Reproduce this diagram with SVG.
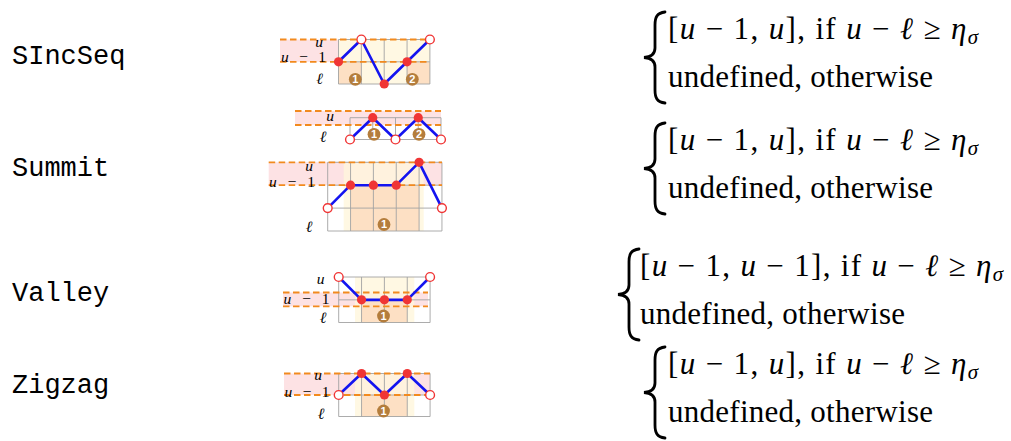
<svg xmlns="http://www.w3.org/2000/svg" xmlns:xlink="http://www.w3.org/1999/xlink" width="1011" height="441" viewBox="0 0 1011 441">
<style>
.name{font-family:"Liberation Mono","DejaVu Sans Mono",monospace;font-size:27px;fill:#000}
.fm{font-family:"Liberation Serif","DejaVu Serif",serif;font-size:31px;fill:#000}
.i{font-style:italic}
.lbl{font-family:"Liberation Serif","DejaVu Serif",serif;font-size:15.5px;fill:#000}
.band{fill:#fde2e4}
.cream{fill:#fff6dc;opacity:0.8}
.peach{fill:#fde0c4}
.grid{fill:none;stroke:#a3a3a3;stroke-width:0.9}
.dash{fill:none;stroke:#f28a1e;stroke-width:1.8;stroke-dasharray:6.5 3.5}
.seq{fill:none;stroke:#1414f0;stroke-width:2.6;stroke-linejoin:round}
.on{fill:#f03535}
.off{fill:#fff;stroke:#f03535;stroke-width:1.4}
.badge{fill:#b47d3c}
.bn{font-family:"Liberation Sans","DejaVu Sans",sans-serif;font-size:11px;font-weight:bold;fill:#fff;text-anchor:middle}
.brace{fill:none;stroke:#000;stroke-width:2.8;stroke-linecap:round}
</style>
<defs>
<path id="br" d="M22 0 C14 1 12 5 12 13 L12 36 C12 42 8 45 1 45.5 C8 46 12 49 12 55 L12 78 C12 86 14 90 22 91"/>
</defs>

<g id="name-sincseq"><text class="name" x="12" y="64.3">SIncSeq</text></g>
<g id="name-summit"><text class="name" x="12" y="175.7">Summit</text></g>
<g id="name-valley"><text class="name" x="12" y="300.7">Valley</text></g>
<g id="name-zigzag"><text class="name" x="12" y="393.3">Zigzag</text></g>

<g id="diagram-sincseq">
<rect class="band" x="280" y="39.5" width="58.5" height="22.3"/>
<rect class="cream" x="338.5" y="39.5" width="91.4" height="44.5"/>
<rect class="peach" x="338.5" y="61.8" width="22.85" height="22.2"/>
<rect class="peach" x="407.05" y="61.8" width="22.85" height="22.2"/>
<path class="grid" d="M338.5 39.5H429.9M338.5 61.8H429.9M338.5 84H429.9M338.5 39.5V84M361.35 39.5V84M384.2 39.5V84M407.05 39.5V84M429.9 39.5V84"/>
<path class="dash" d="M280 39.5H430M280 61.8H430"/>
<text class="lbl i" x="319" y="46.5" text-anchor="middle">u</text>
<text class="lbl" x="281" y="62" textLength="45"><tspan class="i">u</tspan> − 1</text>
<text class="lbl i" x="319.5" y="83.5" text-anchor="middle">ℓ</text>
<circle class="badge" cx="355.3" cy="79.3" r="6.4"/><text class="bn" x="355.3" y="83.2">1</text>
<circle class="badge" cx="412.3" cy="79.3" r="6.4"/><text class="bn" x="412.3" y="83.2">2</text>
<polyline class="seq" points="338.5,61.8 361.35,39.5 384.2,84 407.05,61.8 429.9,39.5"/>
<circle class="on" cx="338.5" cy="61.8" r="4.6"/>
<circle class="off" cx="361.35" cy="39.5" r="4.4"/>
<circle class="on" cx="384.2" cy="84" r="4.6"/>
<circle class="on" cx="407.05" cy="61.8" r="4.6"/>
<circle class="off" cx="429.9" cy="39.5" r="4.4"/>
</g>

<g id="diagram-summit-small">
<rect class="band" x="295" y="111" width="146" height="14"/>
<path class="grid" d="M350 117.7H441M350 139.5H441M350 117.7V139.5M372.75 117.7V139.5M395.5 117.7V139.5M418.25 117.7V139.5M441 117.7V139.5"/>
<path class="dash" d="M295 111H441M295 125H441"/>
<text class="lbl i" x="330" y="120.5" text-anchor="middle">u</text>
<text class="lbl i" x="323" y="141.5" text-anchor="middle">ℓ</text>
<circle class="badge" cx="374" cy="134.3" r="6.4"/><text class="bn" x="374" y="138.2">1</text>
<circle class="badge" cx="419" cy="134.3" r="6.4"/><text class="bn" x="419" y="138.2">2</text>
<polyline class="seq" points="350,139.5 372.75,117.7 395.5,139.5 418.25,117.7 441,139.5"/>
<circle class="off" cx="350" cy="139.5" r="4.4"/>
<circle class="on" cx="372.75" cy="117.7" r="4.6"/>
<circle class="off" cx="395.5" cy="139.5" r="4.4"/>
<circle class="on" cx="418.25" cy="117.7" r="4.6"/>
<circle class="off" cx="441" cy="139.5" r="4.4"/>
</g>

<g id="diagram-summit">
<rect class="band" x="268.7" y="162.3" width="173.3" height="22.9"/>
<rect class="cream" x="343.7" y="162.3" width="80" height="68.7"/>
<rect class="peach" x="350.55" y="185.2" width="68.55" height="45.8"/>
<path class="grid" d="M327.7 162.3H441.95M327.7 185.2H441.95M327.7 208.1H441.95M327.7 231H441.95M327.7 162.3V231M350.55 162.3V231M373.4 162.3V231M396.25 162.3V231M419.1 162.3V231M441.95 162.3V231"/>
<path class="dash" d="M268.7 162.3H442M268.7 185.2H442"/>
<text class="lbl i" x="309" y="170.5" text-anchor="middle">u</text>
<text class="lbl" x="269" y="186.5" textLength="46"><tspan class="i">u</tspan> − 1</text>
<text class="lbl i" x="309" y="231.5" text-anchor="middle">ℓ</text>
<circle class="badge" cx="384" cy="224.5" r="6.4"/><text class="bn" x="384" y="228.4">1</text>
<polyline class="seq" points="327.7,208.1 350.55,185.2 373.4,185.2 396.25,185.2 419.1,162.3 441.95,208.1"/>
<circle class="off" cx="327.7" cy="208.1" r="4.4"/>
<circle class="on" cx="350.55" cy="185.2" r="4.6"/>
<circle class="on" cx="373.4" cy="185.2" r="4.6"/>
<circle class="on" cx="396.25" cy="185.2" r="4.6"/>
<circle class="on" cx="419.1" cy="162.3" r="4.6"/>
<circle class="off" cx="441.95" cy="208.1" r="4.4"/>
</g>

<g id="diagram-valley">
<rect class="band" x="283" y="292.5" width="145" height="13.8"/>
<rect class="cream" x="355" y="277" width="59.3" height="45.5"/>
<rect class="peach" x="361.55" y="299.85" width="45.7" height="22.65"/>
<path class="grid" d="M338.7 277H430.1M338.7 299.85H430.1M338.7 322.5H430.1M338.7 277V322.5M361.55 277V322.5M384.4 277V322.5M407.25 277V322.5M430.1 277V322.5"/>
<path class="dash" d="M283 292.5H428M283 306.3H428"/>
<text class="lbl i" x="320.5" y="284" text-anchor="middle">u</text>
<text class="lbl" x="283.5" y="303.7" textLength="46"><tspan class="i">u</tspan> − 1</text>
<text class="lbl i" x="323" y="322.5" text-anchor="middle">ℓ</text>
<circle class="badge" cx="383.5" cy="316" r="6.4"/><text class="bn" x="383.5" y="319.9">1</text>
<polyline class="seq" points="338.7,277 361.55,299.85 384.4,299.85 407.25,299.85 430.1,277"/>
<circle class="off" cx="338.7" cy="277" r="4.4"/>
<circle class="on" cx="361.55" cy="299.85" r="4.6"/>
<circle class="on" cx="384.4" cy="299.85" r="4.6"/>
<circle class="on" cx="407.25" cy="299.85" r="4.6"/>
<circle class="off" cx="430.1" cy="277" r="4.4"/>
</g>

<g id="diagram-zigzag">
<rect class="band" x="284" y="373.5" width="146" height="21.5"/>
<rect class="cream" x="355" y="373.5" width="59.3" height="43"/>
<rect class="peach" x="361.55" y="395" width="45.7" height="21.5"/>
<path class="grid" d="M338.7 373.5H430.1M338.7 395H430.1M338.7 416.5H430.1M338.7 373.5V416.5M361.55 373.5V416.5M384.4 373.5V416.5M407.25 373.5V416.5M430.1 373.5V416.5"/>
<path class="dash" d="M284 373.5H430M284 395H430"/>
<text class="lbl i" x="318" y="380" text-anchor="middle">u</text>
<text class="lbl" x="284.5" y="396.5" textLength="45"><tspan class="i">u</tspan> − 1</text>
<text class="lbl i" x="321" y="419" text-anchor="middle">ℓ</text>
<circle class="badge" cx="383.5" cy="411" r="6.4"/><text class="bn" x="383.5" y="414.9">1</text>
<polyline class="seq" points="338.7,395 361.55,373.5 384.4,395 407.25,373.5 430.1,395"/>
<circle class="off" cx="338.7" cy="395" r="4.4"/>
<circle class="on" cx="361.55" cy="373.5" r="4.6"/>
<circle class="on" cx="384.4" cy="395" r="4.6"/>
<circle class="on" cx="407.25" cy="373.5" r="4.6"/>
<circle class="off" cx="430.1" cy="395" r="4.4"/>
</g>

<g id="formula-sincseq">
<use xlink:href="#br" href="#br" class="brace" x="643" y="12"/>
<text class="fm" x="668" y="38.5" textLength="310">[<tspan class="i">u</tspan> − 1, <tspan class="i">u</tspan>],  if <tspan class="i">u</tspan> − <tspan class="i">ℓ</tspan> ≥ <tspan class="i">η</tspan><tspan class="i" font-size="21" dy="5">σ</tspan></text>
<text class="fm" x="668" y="86.7" textLength="265">undefined, otherwise</text>
</g>

<g id="formula-summit">
<use xlink:href="#br" href="#br" class="brace" x="643" y="123"/>
<text class="fm" x="668" y="149.5" textLength="310">[<tspan class="i">u</tspan> − 1, <tspan class="i">u</tspan>],  if <tspan class="i">u</tspan> − <tspan class="i">ℓ</tspan> ≥ <tspan class="i">η</tspan><tspan class="i" font-size="21" dy="5">σ</tspan></text>
<text class="fm" x="668" y="197.7" textLength="265">undefined, otherwise</text>
</g>

<g id="formula-valley">
<use xlink:href="#br" href="#br" class="brace" x="617" y="249"/>
<text class="fm" x="640" y="275.5" textLength="363">[<tspan class="i">u</tspan> − 1, <tspan class="i">u</tspan> − 1],  if <tspan class="i">u</tspan> − <tspan class="i">ℓ</tspan> ≥ <tspan class="i">η</tspan><tspan class="i" font-size="21" dy="5">σ</tspan></text>
<text class="fm" x="640" y="323.5" textLength="265">undefined, otherwise</text>
</g>

<g id="formula-zigzag">
<use xlink:href="#br" href="#br" class="brace" x="643" y="347"/>
<text class="fm" x="668" y="373.5" textLength="310">[<tspan class="i">u</tspan> − 1, <tspan class="i">u</tspan>],  if <tspan class="i">u</tspan> − <tspan class="i">ℓ</tspan> ≥ <tspan class="i">η</tspan><tspan class="i" font-size="21" dy="5">σ</tspan></text>
<text class="fm" x="668" y="421.5" textLength="265">undefined, otherwise</text>
</g>
</svg>
